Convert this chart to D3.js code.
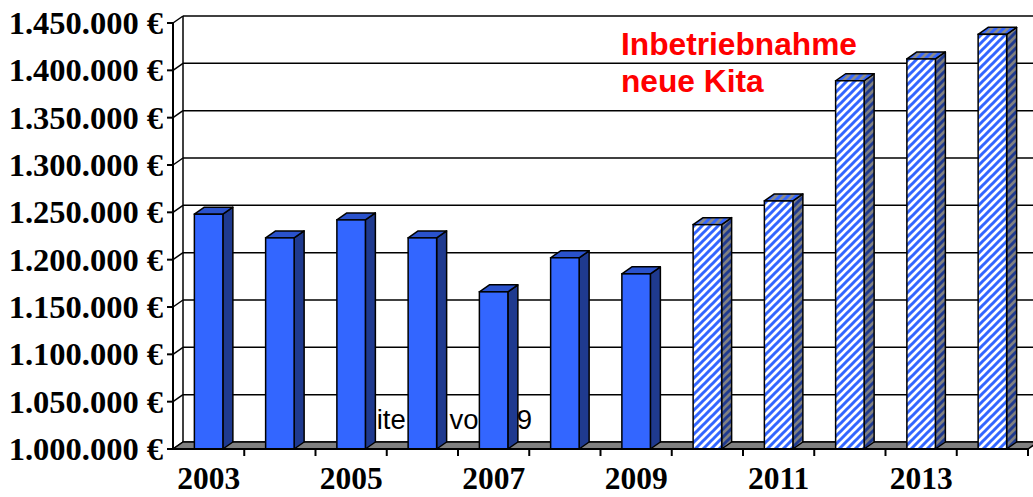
<!DOCTYPE html>
<html>
<head>
<meta charset="utf-8">
<script src="https://cdn.jsdelivr.net/npm/d3@7"></script>
<style>
  html, body { margin: 0; padding: 0; background: #fff; }
  svg { display: block; }
</style>
</head>
<body>
<div id="chart"></div>
<script>
const years = [2003, 2004, 2005, 2006, 2007, 2008, 2009, 2010, 2011, 2012, 2013, 2014];
const costs = [1248000, 1223000, 1242000, 1223000, 1166000, 1202000, 1185000, 1237000, 1262000, 1389000, 1412000, 1438000];
const planned = [false, false, false, false, false, false, false, true, true, true, true, true];
const yTicks = [1000000, 1050000, 1100000, 1150000, 1200000, 1250000, 1300000, 1350000, 1400000, 1450000];
const xLabelYears = [2003, 2005, 2007, 2009, 2011, 2013];
const noteLines = ["Inbetriebnahme", "neue Kita"];
const footerText = "Seite 11 von 19";

const width = 1033, height = 497;
const plotLeft = 173, plotRight = 1028, plotTop = 23, plotBottom = 449;
const dx = 10, dy = -7;   // 3d depth offset

const de = d3.formatLocale({ decimal: ",", thousands: ".", grouping: [3], currency: ["", " €"] });
const fmt = de.format("$,.0f");

const svg = d3.select("#chart").append("svg")
  .attr("width", width)
  .attr("height", height);

const defs = svg.append("defs");
function stripes(id, bg, fg) {
  const p = defs.append("pattern")
    .attr("id", id)
    .attr("patternUnits", "userSpaceOnUse")
    .attr("width", 8).attr("height", 8);
  p.append("rect").attr("width", 8).attr("height", 8).attr("fill", bg);
  p.append("path")
    .attr("d", "M-2,2L2,-2M0,8L8,0M6,10L10,6")
    .attr("stroke", fg).attr("stroke-width", 3);
}
stripes("hatchFront", "#ffffff", "#3366ff");
stripes("hatchSide", "#808080", "#1f3a8f");
stripes("hatchTop", "#8a8a8a", "#3366ff");

const x = d3.scaleBand()
  .domain(years)
  .range([plotLeft, plotRight])
  .paddingInner(0.6)
  .paddingOuter(0.3);
const step = x.step();

const y = d3.scaleLinear()
  .domain([1000000, 1450000])
  .range([plotBottom, plotTop]);

// back wall gridlines
svg.append("g")
  .selectAll("line")
  .data(yTicks)
  .enter().append("line")
  .attr("x1", plotLeft + dx).attr("x2", plotRight + dx + 20)
  .attr("y1", d => y(d) + dy).attr("y2", d => y(d) + dy)
  .attr("stroke", "#000").attr("stroke-width", 1.5);

// left wall diagonals
svg.append("g")
  .selectAll("line")
  .data(yTicks)
  .enter().append("line")
  .attr("x1", plotLeft).attr("x2", plotLeft + dx)
  .attr("y1", d => y(d)).attr("y2", d => y(d) + dy)
  .attr("stroke", "#000").attr("stroke-width", 1.5);

svg.append("line")
  .attr("x1", plotLeft + dx).attr("x2", plotLeft + dx)
  .attr("y1", y(1450000) + dy).attr("y2", y(1000000) + dy)
  .attr("stroke", "#000").attr("stroke-width", 1.5);

// floor
svg.append("path")
  .attr("d", `M${plotLeft},${plotBottom}L${plotRight},${plotBottom}L${plotRight + dx},${plotBottom + dy}L${plotLeft + dx},${plotBottom + dy}Z`)
  .attr("fill", "#808080")
  .attr("stroke", "#000").attr("stroke-width", 1.5);

// page footer text showing through behind the bars
svg.append("text")
  .attr("x", 343).attr("y", 429)
  .attr("font-family", "Liberation Sans, Arial, sans-serif")
  .attr("font-size", 27.5)
  .attr("fill", "#000")
  .text(footerText);

// bars
const data = years.map((yr, i) => ({ year: yr, value: costs[i], planned: planned[i] }));
const bw = x.bandwidth();
const bars = svg.append("g").selectAll("g")
  .data(data)
  .enter().append("g");

bars.append("path")   // side
  .attr("d", d => {
    const x1 = x(d.year) + bw, yt = y(d.value);
    return `M${x1},${plotBottom}L${x1},${yt}L${x1 + dx},${yt + dy}L${x1 + dx},${plotBottom + dy}Z`;
  })
  .attr("fill", d => d.planned ? "url(#hatchSide)" : "#1f3a8f")
  .attr("stroke", "#000").attr("stroke-width", 1.5).attr("stroke-linejoin", "round");

bars.append("path")   // top
  .attr("d", d => {
    const x0 = x(d.year), yt = y(d.value);
    return `M${x0},${yt}L${x0 + bw},${yt}L${x0 + bw + dx},${yt + dy}L${x0 + dx},${yt + dy}Z`;
  })
  .attr("fill", d => d.planned ? "url(#hatchTop)" : "#2a52cc")
  .attr("stroke", "#000").attr("stroke-width", 1.5).attr("stroke-linejoin", "round");

bars.append("rect")   // front
  .attr("x", d => x(d.year))
  .attr("y", d => y(d.value))
  .attr("width", bw)
  .attr("height", d => plotBottom - y(d.value))
  .attr("fill", d => d.planned ? "url(#hatchFront)" : "#3366ff")
  .attr("stroke", "#000").attr("stroke-width", 1.5);

// front axes
svg.append("line")
  .attr("x1", plotLeft).attr("x2", plotLeft)
  .attr("y1", plotTop).attr("y2", plotBottom)
  .attr("stroke", "#000").attr("stroke-width", 2);
svg.append("line")
  .attr("x1", plotLeft).attr("x2", plotRight)
  .attr("y1", plotBottom).attr("y2", plotBottom)
  .attr("stroke", "#000").attr("stroke-width", 2);

// y ticks + labels
const yAxis = svg.append("g");
yAxis.selectAll("line")
  .data(yTicks)
  .enter().append("line")
  .attr("x1", plotLeft - 6).attr("x2", plotLeft)
  .attr("y1", d => y(d)).attr("y2", d => y(d))
  .attr("stroke", "#000").attr("stroke-width", 2);
yAxis.selectAll("text")
  .data(yTicks)
  .enter().append("text")
  .attr("x", plotLeft - 10)
  .attr("y", d => y(d) + 11)
  .attr("text-anchor", "end")
  .attr("font-family", "Liberation Serif, Times New Roman, serif")
  .attr("font-weight", "bold")
  .attr("font-size", 32.5)
  .text(d => fmt(d));

// x ticks at category boundaries
const xAxis = svg.append("g");
xAxis.selectAll("line")
  .data(years)
  .enter().append("line")
  .attr("x1", d => x(d) - x.paddingOuter() * step + step)
  .attr("x2", d => x(d) - x.paddingOuter() * step + step)
  .attr("y1", plotBottom).attr("y2", plotBottom + 7)
  .attr("stroke", "#000").attr("stroke-width", 2);
xAxis.selectAll("text")
  .data(xLabelYears)
  .enter().append("text")
  .attr("x", d => x(d) + bw / 2)
  .attr("y", 489)
  .attr("text-anchor", "middle")
  .attr("font-family", "Liberation Serif, Times New Roman, serif")
  .attr("font-weight", "bold")
  .attr("font-size", 31.5)
  .text(d => d);

// annotation
svg.append("g").selectAll("text")
  .data(noteLines)
  .enter().append("text")
  .attr("x", 621)
  .attr("y", (d, i) => 55 + i * 37)
  .attr("font-family", "Liberation Sans, Arial, sans-serif")
  .attr("font-weight", "bold")
  .attr("font-size", 31.7)
  .attr("fill", "#ff0000")
  .text(d => d);
</script>
</body>
</html>
